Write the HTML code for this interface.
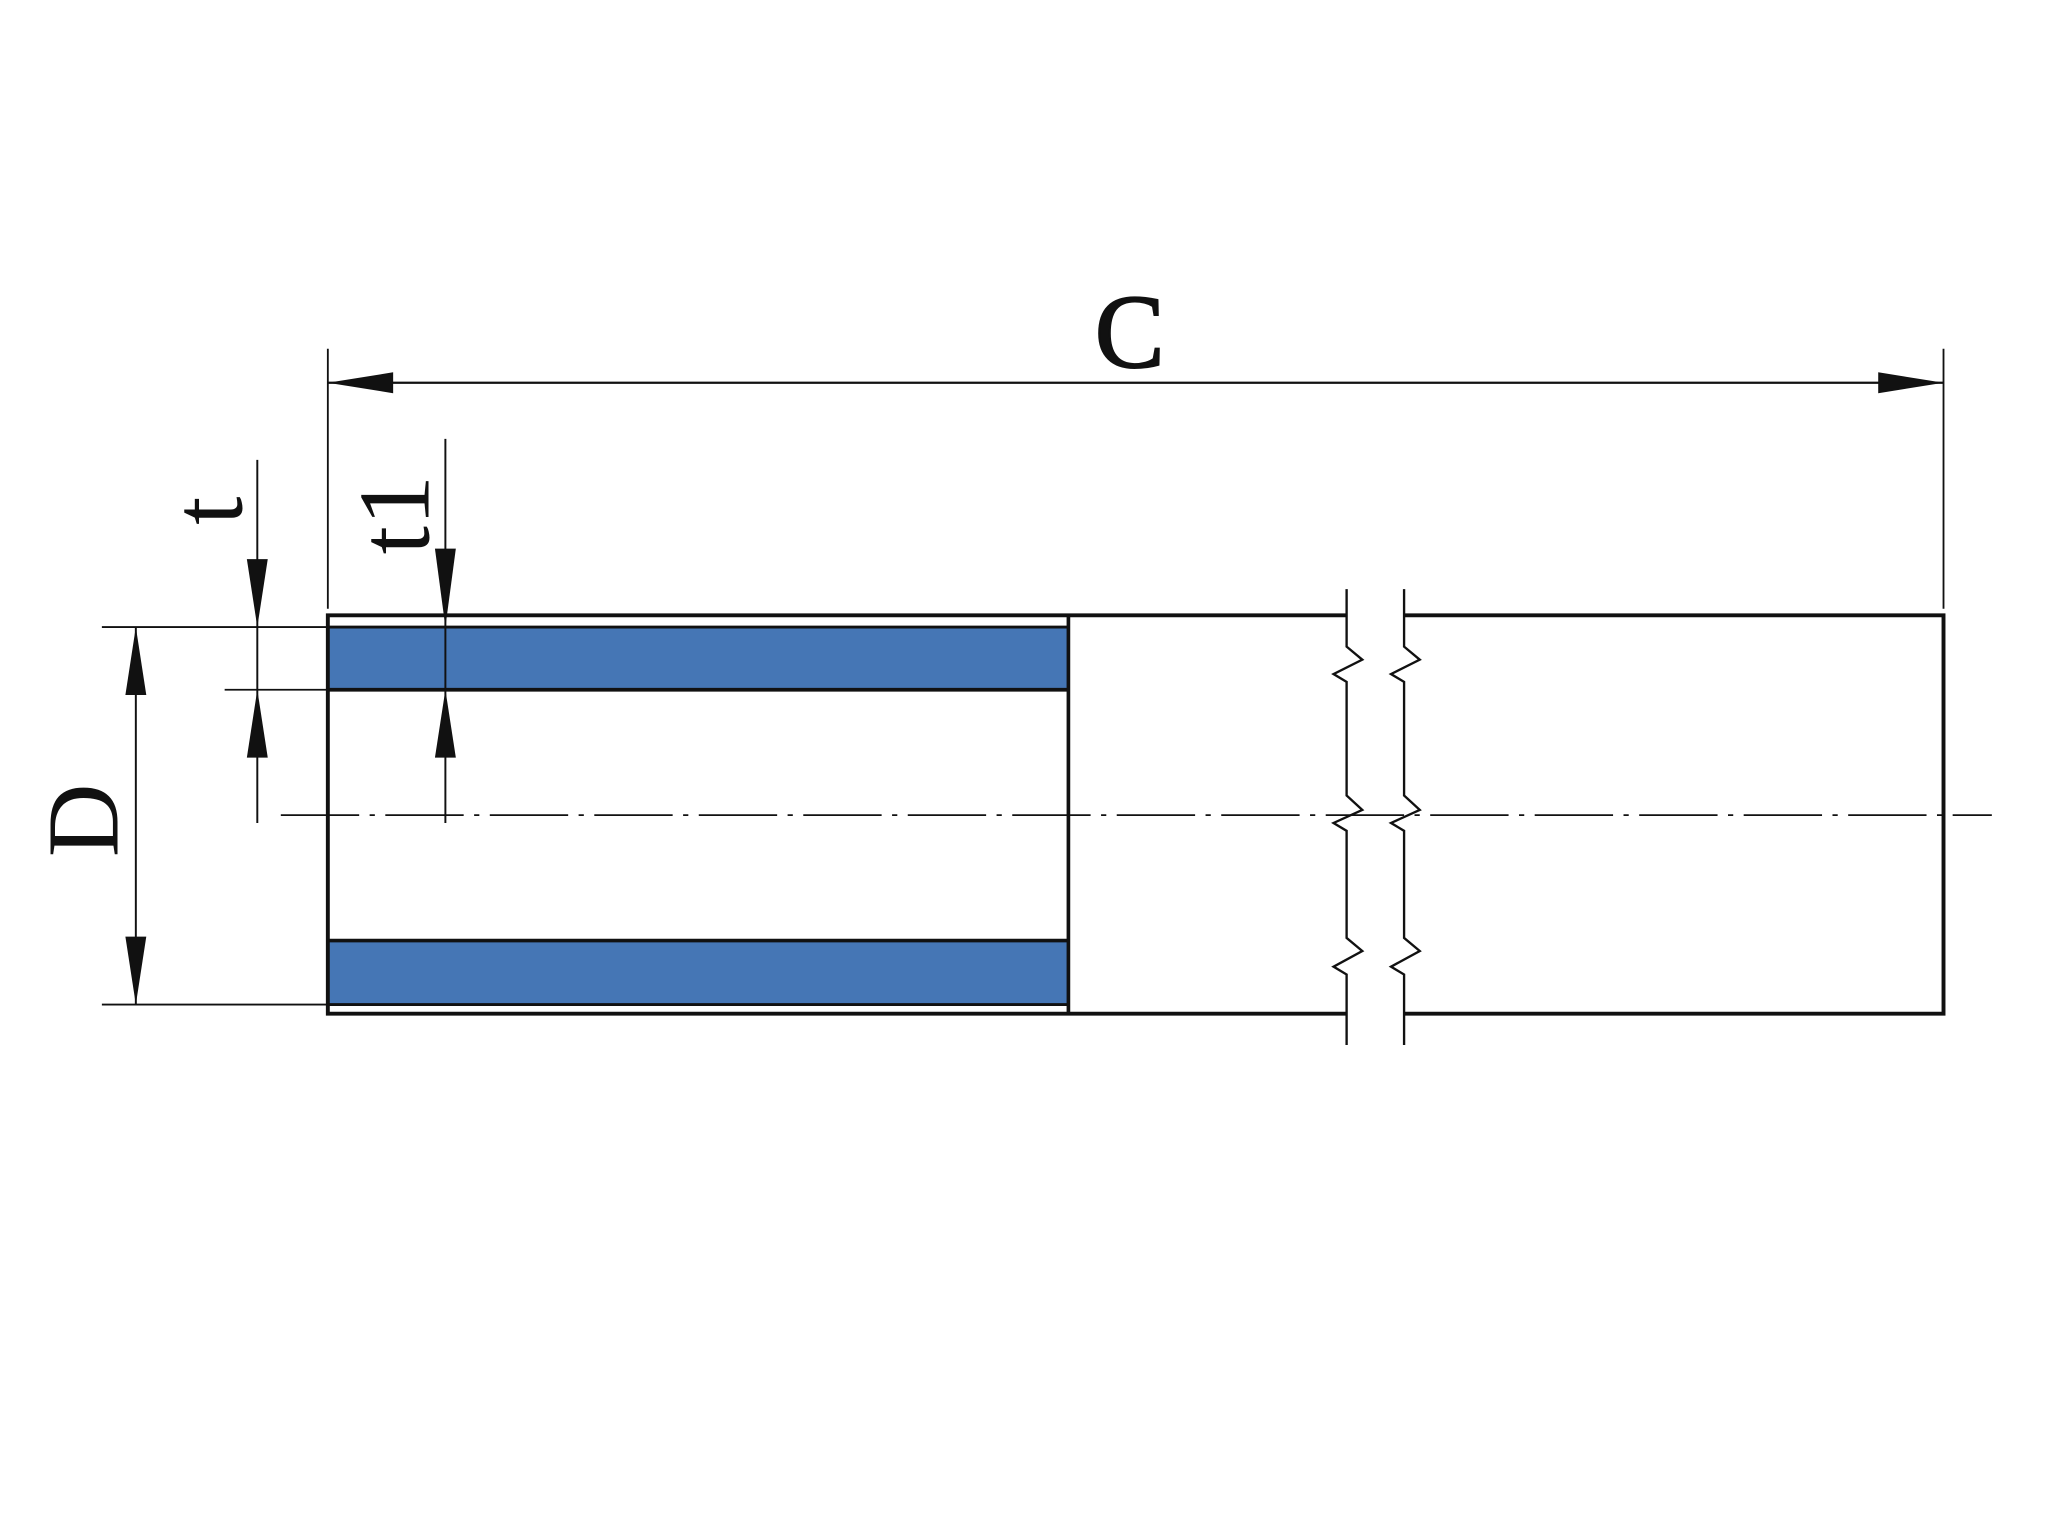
<!DOCTYPE html>
<html><head><meta charset="utf-8"><style>html,body{margin:0;padding:0;background:#fff}svg{display:block}</style></head>
<body>
<svg width="2048" height="1531" viewBox="0 0 1568 1172" preserveAspectRatio="none" xmlns="http://www.w3.org/2000/svg">
<rect width="1568" height="1172" fill="#fff"/>
<rect x="251" y="480" width="566" height="48" fill="#4576b5"/>
<rect x="251" y="720" width="566" height="49" fill="#4576b5"/>
<g stroke="#111" fill="none">
<line x1="251" y1="480" x2="817" y2="480" stroke-width="2.2"/>
<line x1="251" y1="528" x2="817" y2="528" stroke-width="2.8"/>
<line x1="251" y1="720" x2="817" y2="720" stroke-width="2.8"/>
<line x1="251" y1="769" x2="817" y2="769" stroke-width="2.2"/>
<path d="M1031 471 H251 V776 H1031" stroke-width="3"/>
<path d="M1075 471 H1488 V776 H1075" stroke-width="3"/>
<line x1="818" y1="471" x2="818" y2="776" stroke-width="2.8"/>
<path d="M1031 451 V495 L1043 505 L1021 516 L1031 522 V609 L1043 620 L1021 630 L1031 636 V718 L1043 728 L1021 740 L1031 746 V800" stroke-width="1.8"/>
<path d="M1075 451 V495 L1087 505 L1065 516 L1075 522 V609 L1087 620 L1065 630 L1075 636 V718 L1087 728 L1065 740 L1075 746 V800" stroke-width="1.8"/>
<line x1="215" y1="624" x2="1525" y2="624" stroke-width="1.4" stroke-dasharray="60,8,4,8"/>
<line x1="251" y1="267" x2="251" y2="466" stroke-width="1.4"/>
<line x1="1488" y1="267" x2="1488" y2="466" stroke-width="1.4"/>
<line x1="251" y1="293" x2="1488" y2="293" stroke-width="1.7"/>
<line x1="78" y1="480" x2="251" y2="480" stroke-width="1.4"/>
<line x1="78" y1="769" x2="251" y2="769" stroke-width="1.4"/>
<line x1="104" y1="480" x2="104" y2="769" stroke-width="1.5"/>
<line x1="197" y1="352" x2="197" y2="630" stroke-width="1.5"/>
<line x1="172" y1="528" x2="251" y2="528" stroke-width="1.4"/>
<line x1="341" y1="336" x2="341" y2="630" stroke-width="1.5"/>
</g>
<g fill="#111">
<polygon points="251,293 301,285 301,301"/>
<polygon points="1488,293 1438,285 1438,301"/>
<polygon points="104,480 96,532 112,532"/>
<polygon points="104,769 96,717 112,717"/>
<polygon points="197,480 189,428 205,428"/>
<polygon points="197,528 189,580 205,580"/>
<polygon points="341,480 333,420 349,420"/>
<polygon points="341,528 333,580 349,580"/>
</g>
<g font-family="'Liberation Serif', serif" fill="#111" text-anchor="middle">
<text x="865" y="281" font-size="80" stroke="#111" stroke-width="1.5">C</text>
<text transform="translate(90,628) rotate(-90)" font-size="78">D</text>
<text transform="translate(185,391) rotate(-90)" font-size="78">t</text>
<text transform="translate(328,394) rotate(-90)" font-size="78">t1</text>
</g>
</svg>
</body></html>
